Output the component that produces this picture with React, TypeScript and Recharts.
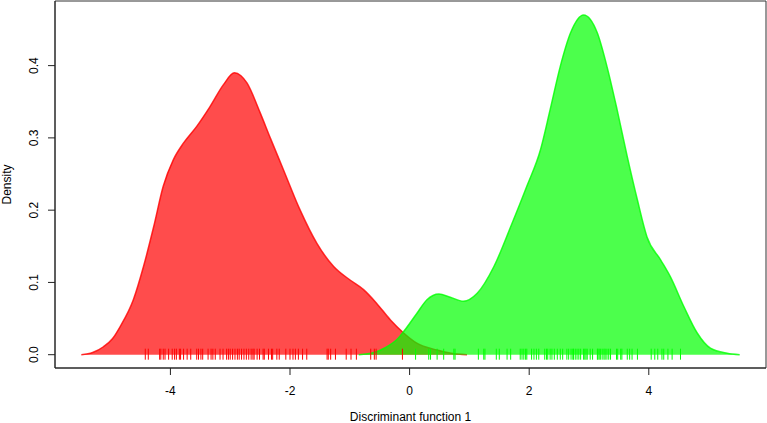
import React from "react";
import {
  ComposedChart,
  Area,
  Scatter,
  XAxis,
  YAxis,
  ReferenceArea,
  Label,
} from "recharts";

// Density estimate of group 1 (red): x, density
const redX = [-5.49, -5.3, -5.12, -4.97, -4.84, -4.62, -4.45, -4.28, -4.12, -3.95, -3.78, -3.56, -3.34, -3.11, -2.93, -2.82, -2.72, -2.5, -2.33, -2.11, -1.83, -1.55, -1.27, -0.99, -0.77, -0.55, -0.32, -0.1, 0.12, 0.46, 0.7, 0.96];
const redY = [0, 0.003, 0.011, 0.022, 0.039, 0.076, 0.122, 0.177, 0.233, 0.27, 0.293, 0.316, 0.343, 0.374, 0.39, 0.386, 0.376, 0.335, 0.3, 0.256, 0.2, 0.154, 0.122, 0.103, 0.09, 0.071, 0.048, 0.03, 0.016, 0.0065, 0.002, 0];

// Density estimate of group 2 (green)
const greenX = [-0.85, -0.6, -0.4, -0.2, -0.1, 0.12, 0.29, 0.49, 0.68, 0.9, 1.13, 1.41, 1.69, 1.96, 2.19, 2.35, 2.52, 2.69, 2.91, 3.14, 3.3, 3.47, 3.64, 3.81, 3.97, 4.2, 4.36, 4.59, 4.81, 5.03, 5.31, 5.52];
const greenY = [0, 0.003, 0.01, 0.022, 0.032, 0.057, 0.076, 0.084, 0.0795, 0.074, 0.085, 0.122, 0.177, 0.233, 0.284, 0.339, 0.399, 0.445, 0.47, 0.445, 0.399, 0.339, 0.274, 0.214, 0.163, 0.131, 0.108, 0.066, 0.03, 0.009, 0.002, 0];

// Rug positions
const redRug = [-4.42, -4.37, -4.18, -4.16, -4.12, -4.09, -4.03, -3.97, -3.93, -3.9, -3.85, -3.83, -3.78, -3.72, -3.66, -3.56, -3.53, -3.49, -3.46, -3.37, -3.32, -3.29, -3.25, -3.17, -3.12, -3.06, -3.03, -3.0, -2.96, -2.92, -2.88, -2.85, -2.81, -2.77, -2.73, -2.69, -2.65, -2.62, -2.6, -2.55, -2.51, -2.45, -2.43, -2.36, -2.31, -2.29, -2.22, -2.18, -2.07, -2.0, -1.95, -1.91, -1.86, -1.79, -1.72, -1.38, -1.36, -1.32, -1.24, -1.06, -0.98, -0.89, -0.65, -0.59, -0.56, -0.12];
const greenRug = [0.1, 0.32, 0.35, 0.46, 0.57, 0.74, 0.76, 1.15, 1.24, 1.26, 1.45, 1.5, 1.63, 1.69, 1.85, 1.88, 1.91, 1.94, 1.96, 2.04, 2.08, 2.12, 2.16, 2.26, 2.29, 2.31, 2.35, 2.38, 2.42, 2.47, 2.52, 2.56, 2.63, 2.66, 2.7, 2.73, 2.74, 2.77, 2.8, 2.83, 2.86, 2.91, 2.93, 2.95, 2.97, 3.02, 3.06, 3.14, 3.15, 3.17, 3.19, 3.22, 3.25, 3.27, 3.3, 3.33, 3.36, 3.46, 3.48, 3.53, 3.55, 3.64, 3.68, 3.72, 3.81, 4.04, 4.1, 4.15, 4.22, 4.25, 4.32, 4.39, 4.53];

const xTicks = [-4, -2, 0, 2, 4];
const yTicks = [0, 0.1, 0.2, 0.3, 0.4];
const xDomain: [number, number] = [-5.93, 5.96];
const yDomain: [number, number] = [-0.0184, 0.4894];

const redData = redX.map((x, i) => ({ x, y: redY[i] }));
const greenData = greenX.map((x, i) => ({ x, y: greenY[i] }));
const redRugData = redRug.map((x) => ({ x, y: 0 }));
const greenRugData = greenRug.map((x) => ({ x, y: 0 }));

const FONT = "'Liberation Sans', Arial, Helvetica, sans-serif";

const rugShape = (color: string) => (props: any) => {
  const { cx, cy } = props;
  return <line x1={cx} x2={cx} y1={cy - 6} y2={cy + 5} stroke={color} strokeWidth={1} />;
};

const YTick = (props: any) => {
  const { x, y, payload } = props;
  const tx = x - 8;
  return (
    <text
      x={tx}
      y={y}
      transform={`rotate(-90, ${tx}, ${y})`}
      textAnchor="middle"
      fontSize={12}
      fontFamily={FONT}
      fill="#000"
    >
      {payload.value.toFixed(1)}
    </text>
  );
};

export default function App() {
  return (
    <div style={{ position: "absolute", left: 0, top: 0, width: 767, height: 423, background: "#fff" }}>
      <ComposedChart width={767} height={423} margin={{ top: 1, right: 1, left: 0, bottom: 0 }}>
        <XAxis
          dataKey="x"
          type="number"
          domain={xDomain}
          allowDataOverflow
          ticks={xTicks}
          tickSize={7}
          tickMargin={11}
          height={55}
          stroke="#222"
          tick={{ fill: "#000", fontSize: 12, fontFamily: FONT }}
        >
          <Label
            content={(p: any) => {
              const vb = p.viewBox;
              return (
                <text x={vb.x + vb.width / 2} y={421} textAnchor="middle" fontSize={12} fontFamily={FONT} fill="#000">
                  Discriminant function 1
                </text>
              );
            }}
          />
        </XAxis>
        <YAxis
          type="number"
          domain={yDomain}
          allowDataOverflow
          ticks={yTicks}
          tickSize={7}
          width={55}
          stroke="#222"
          tick={<YTick />}
        >
          <Label
            content={(p: any) => {
              const vb = p.viewBox;
              const cy = vb.y + vb.height / 2;
              return (
                <text x={11} y={cy} transform={`rotate(-90, 11, ${cy})`} textAnchor="middle" fontSize={12} fontFamily={FONT} fill="#000">
                  Density
                </text>
              );
            }}
          />
        </YAxis>
        <ReferenceArea x1={xDomain[0]} x2={xDomain[1]} y1={yDomain[0]} y2={yDomain[1]} fill="none" stroke="#333" strokeWidth={1} ifOverflow="visible" />
        <Area
          data={redData}
          dataKey="y"
          type="monotone"
          fill="#ff0000"
          fillOpacity={0.7}
          stroke="#ff0000"
          strokeOpacity={0.8}
          strokeWidth={1.5}
          isAnimationActive={false}
          dot={false}
          activeDot={false}
        />
        <Area
          data={greenData}
          dataKey="y"
          type="monotone"
          fill="#00ff00"
          fillOpacity={0.7}
          stroke="#00ff00"
          strokeOpacity={0.8}
          strokeWidth={1.5}
          isAnimationActive={false}
          dot={false}
          activeDot={false}
        />
        <Scatter data={redRugData} dataKey="y" shape={rugShape("#ff0000")} isAnimationActive={false} />
        <Scatter data={greenRugData} dataKey="y" shape={rugShape("#00ff00")} isAnimationActive={false} />
      </ComposedChart>
    </div>
  );
}
